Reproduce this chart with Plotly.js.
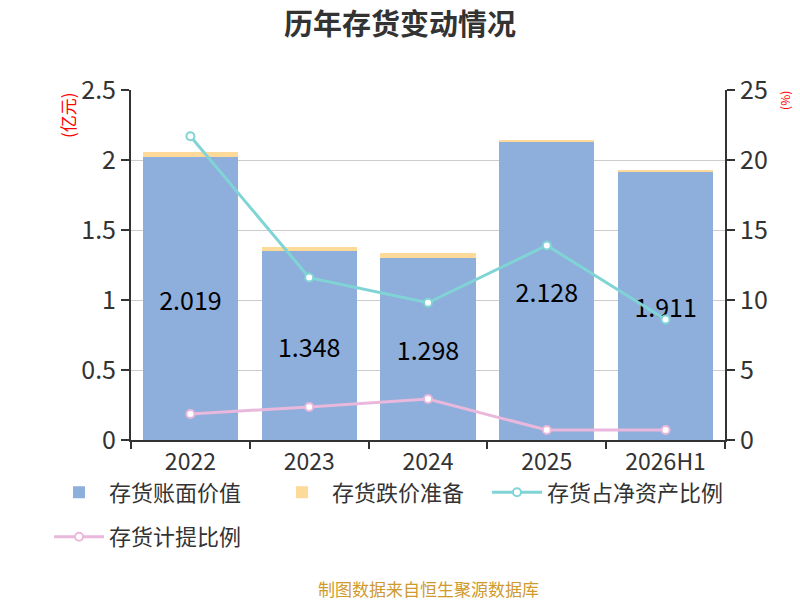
<!DOCTYPE html>
<html>
<head>
<meta charset="utf-8">
<script src="https://cdn.plot.ly/plotly-3.0.1.min.js"></script>
<style>
  html, body { margin: 0; padding: 0; background: #fff; }
  #chart { width: 800px; height: 600px; }
</style>
</head>
<body>
<div id="chart"></div>
<script>
const FONT = '"Noto Sans CJK SC", "Noto Sans", sans-serif';

// 年份
const categories = ["2022", "2023", "2024", "2025", "2026H1"];
// 存货账面价值 (亿元)
const bookValue = [2.019, 1.348, 1.298, 2.128, 1.911];
// 存货跌价准备 (亿元)
const reserve = [0.038, 0.032, 0.04, 0.015, 0.017];
// 存货占净资产比例 (%)
const netAssetRatio = [21.7, 11.6, 9.8, 13.9, 8.6];
// 存货计提比例 (%)
const provisionRatio = [1.86, 2.36, 2.93, 0.71, 0.71];

const TICK_FONT = { family: FONT, size: 25, color: "#333" };
const LEGEND_FONT = { family: FONT, size: 22, color: "#333" };

const data = [
  {
    type: "bar",
    name: "存货账面价值",
    x: categories,
    y: bookValue,
    marker: { color: "#8eaedb" },
    text: bookValue.map((v) => v.toFixed(3)),
    textposition: "inside",
    insidetextanchor: "middle",
    textfont: { family: FONT, size: 25, color: "#000" },
    legend: "legend",
  },
  {
    type: "bar",
    name: "存货跌价准备",
    x: categories,
    y: reserve,
    marker: { color: "#fdd99a" },
    textposition: "none",
    legend: "legend2",
  },
  {
    type: "scatter",
    mode: "lines+markers",
    name: "存货占净资产比例",
    x: categories,
    y: netAssetRatio,
    yaxis: "y2",
    line: { color: "#80d4d6", width: 3 },
    marker: { size: 8, color: "#fff", line: { color: "#80d4d6", width: 2 } },
    legend: "legend3",
  },
  {
    type: "scatter",
    mode: "lines+markers",
    name: "存货计提比例",
    x: categories,
    y: provisionRatio,
    yaxis: "y2",
    line: { color: "#e9b8dc", width: 3 },
    marker: { size: 8, color: "#fff", line: { color: "#e9b8dc", width: 2 } },
    legend: "legend4",
  },
];

const axisLine = {
  ticks: "outside",
  ticklen: 8,
  tickwidth: 2,
  tickcolor: "#333",
  showline: true,
  linecolor: "#333",
  linewidth: 2,
  tickfont: TICK_FONT,
};

// one legend per entry so each can sit where the reference has it
function legendAt(x, y) {
  return {
    orientation: "h",
    x: x,
    xanchor: "left",
    y: y,
    yanchor: "middle",
    font: LEGEND_FONT,
    itemwidth: 50,
    bgcolor: "rgba(0,0,0,0)",
  };
}

const layout = {
  width: 800,
  height: 600,
  barmode: "stack",
  bargap: 0.2,
  font: { family: FONT, size: 20, color: "#333" },
  title: {
    text: "<b>历年存货变动情况</b>",
    font: { family: FONT, size: 29, color: "#333" },
    x: 0.5,
    xanchor: "center",
    y: 0.958,
    yanchor: "middle",
  },
  margin: { l: 131, r: 75, t: 90, b: 160 },
  xaxis: Object.assign({}, axisLine, {
    type: "category",
    tickson: "boundaries",
    ticklen: 7,
    tickfont: { family: FONT, size: 23, color: "#333" },
  }),
  yaxis: Object.assign({}, axisLine, {
    range: [0, 2.5],
    dtick: 0.5,
    showgrid: true,
    gridcolor: "#cccccc",
    gridwidth: 1,
    zeroline: false,
  }),
  yaxis2: Object.assign({}, axisLine, {
    overlaying: "y",
    side: "right",
    range: [0, 25],
    dtick: 5,
    showgrid: false,
    zeroline: false,
  }),
  showlegend: true,
  legend: legendAt(-0.138, -0.15),
  legend2: legendAt(0.2374, -0.15),
  legend3: legendAt(0.5993, -0.15),
  legend4: legendAt(-0.138, -0.277),
  annotations: [
    {
      text: "(亿元)",
      xref: "paper",
      yref: "paper",
      x: -0.107,
      y: 0.93,
      xanchor: "center",
      yanchor: "middle",
      textangle: -90,
      showarrow: false,
      font: { family: FONT, size: 17, color: "#ff0000" },
    },
    {
      text: "(%)",
      xref: "paper",
      yref: "paper",
      x: 1.1,
      y: 0.97,
      xanchor: "center",
      yanchor: "middle",
      textangle: -90,
      showarrow: false,
      font: { family: FONT, size: 12, color: "#ff0000" },
    },
    {
      text: "制图数据来自恒生聚源数据库",
      xref: "paper",
      yref: "paper",
      x: 0.5,
      y: -0.4229,
      xanchor: "center",
      yanchor: "middle",
      showarrow: false,
      font: { family: FONT, size: 17, color: "#cf9a2e" },
    },
  ],
  paper_bgcolor: "#fff",
  plot_bgcolor: "#fff",
};

const container = document.getElementById("chart");
if (container) {
  Plotly.newPlot(container, data, layout, { displayModeBar: false, staticPlot: true });
} else {
  console.error("chart container missing");
}
</script>
</body>
</html>
